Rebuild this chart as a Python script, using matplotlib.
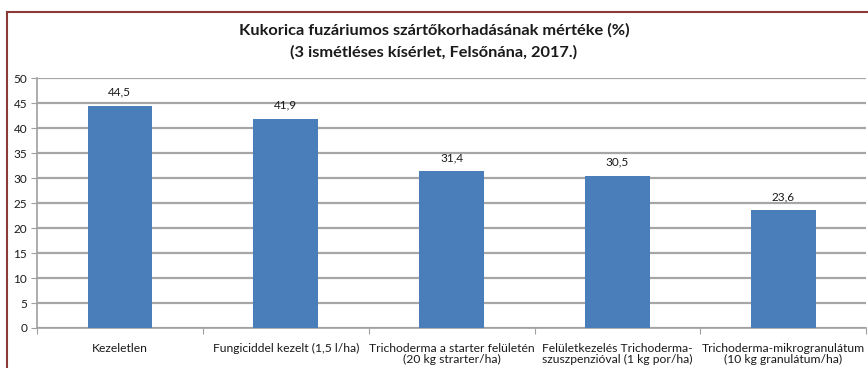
import matplotlib.pyplot as plt
from matplotlib.lines import Line2D

kezelesek = [
    "Kezeletlen",
    "Fungiciddel kezelt (1,5 l/ha)",
    "Trichoderma a starter felületén\n(20 kg strarter/ha)",
    "Felületkezelés Trichoderma-\nszuszpenzióval (1 kg por/ha)",
    "Trichoderma-mikrogranulátum\n(10 kg granulátum/ha)",
]
fertozes = [44.5, 41.9, 31.4, 30.5, 23.6]
y_ticks = [0, 5, 10, 15, 20, 25, 30, 35, 40, 45, 50]

plt.rcParams['font.family'] = ['Lato', 'DejaVu Sans']

fig = plt.figure(figsize=(8.68, 3.68), dpi=100)
ax = fig.add_axes([0.0426, 0.1087, 0.9554, 0.6793])

x = range(len(kezelesek))
ax.bar(x, fertozes, width=0.39, color='#4a7ebb', zorder=3)
for i, v in zip(x, fertozes):
    ax.text(i, v + 1.6, f"{v:.1f}".replace('.', ','), ha='center', va='bottom',
            fontsize=8.5, color='#1a1a1a')

ax.set_xlim(-0.5, len(kezelesek) - 0.5)
ax.set_ylim(0, 50)
ax.set_yticks(y_ticks)
ax.tick_params(axis='y', labelsize=8.5, labelcolor='#1a1a1a', length=4,
               color='#a0a0a0', pad=3)
ax.yaxis.grid(True, color='#a6a6a6', linewidth=1.6, zorder=0)

# kategória-határok a vízszintes tengelyen
ax.set_xticks([i - 0.5 for i in range(len(kezelesek) + 1)])
ax.set_xticklabels([])
ax.set_xticks(list(x), minor=True)
ax.set_xticklabels(kezelesek, minor=True, fontsize=8.7, color='#1a1a1a',
                   linespacing=1.0)
ax.tick_params(axis='x', which='major', length=4, color='#a0a0a0')
ax.tick_params(axis='x', which='minor', length=0, pad=11)

for side in ('top', 'right'):
    ax.spines[side].set_visible(False)
for side in ('left', 'bottom'):
    ax.spines[side].set_color('#a0a0a0')
    ax.spines[side].set_linewidth(1.2)

fig.text(0.5, 0.918, "Kukorica fuzáriumos szártőkorhadásának mértéke (%)",
         ha='center', va='center', fontsize=11.8, fontweight='bold',
         color='#1a1a1a')
fig.text(0.5, 0.858, "(3 ismétléses kísérlet, Felsőnána, 2017.)",
         ha='center', va='center', fontsize=11.8, fontweight='bold',
         color='#1a1a1a')

# keret bal és felső oldala
keret = '#8b3a3a'
fig.add_artist(Line2D([0.0081, 0.0081], [0, 0.967], color=keret, lw=1.5))
fig.add_artist(Line2D([0.0081, 1.0], [0.967, 0.967], color=keret, lw=1.5))

fig.savefig('out.png', dpi=100)
